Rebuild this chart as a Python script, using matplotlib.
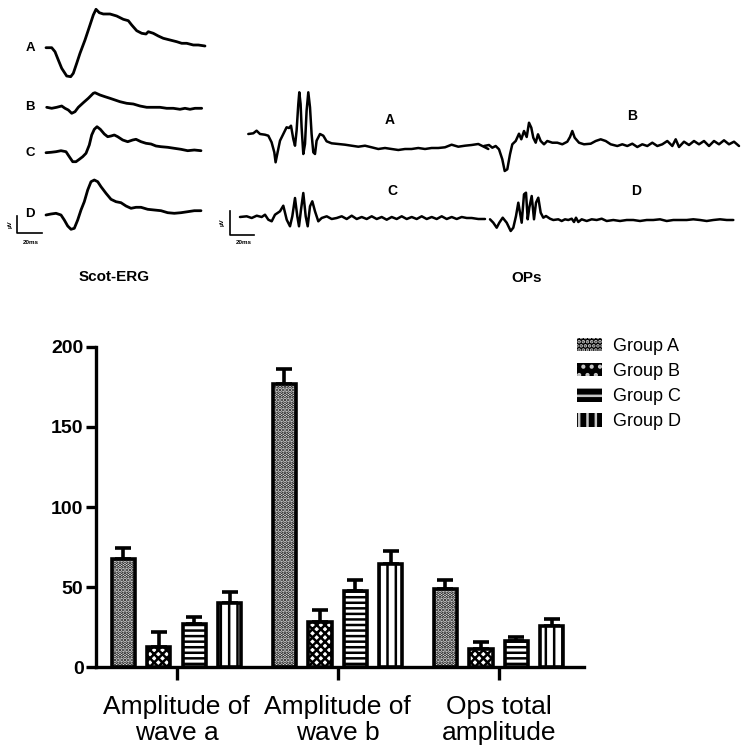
import matplotlib
matplotlib.use("Agg")
import matplotlib.pyplot as plt
from matplotlib.patches import Patch
import numpy as np

plt.rcParams["font.family"] = ["Liberation Sans", "DejaVu Sans"]
plt.rcParams["hatch.linewidth"] = 1.8

# ---- bar chart data ----
categories = ["Amplitude of\nwave a", "Amplitude of\nwave b", "Ops total\namplitude"]
groups = ["Group A", "Group B", "Group C", "Group D"]
group_a_mean = [67.6, 176.6, 48.6]
group_b_mean = [12.8, 28.1, 11.0]
group_c_mean = [26.9, 47.3, 16.0]
group_d_mean = [40.3, 64.5, 25.4]
group_a_err = [6.8, 9.4, 5.5]
group_b_err = [9.3, 7.4, 4.6]
group_c_err = [4.1, 6.8, 3.0]
group_d_err = [6.6, 8.2, 4.6]
hatches = [".....", "xxxx", "---", "||"]
legend_hatches = ["....", "..", "--", "||"]

# ---- traces (time, amplitude) ----
erg_a_t = [0, 5.7, 9, 12.3, 15.7, 20.7, 24.7, 27.3, 30.7, 34, 39, 44, 47.3, 50, 53.3, 57.3, 64, 70.7, 77.3,
           82.3, 85.7, 90.7, 95.7, 100, 102.3, 107.3, 112.3, 117.3, 124, 130.7, 135.7, 140.7, 147.3, 152.3, 159]
erg_a_v = [0, 0, -4, -12.3, -20.6, -28.3, -29, -25.6, -15.6, -5.6, 7.7, 22.7, 32.7, 38.4, 35, 33.7, 33.7, 31.7,
           28.4, 27, 22.7, 17, 14.4, 13.7, 16, 14.4, 11.7, 9.4, 7.7, 6, 4.4, 4.4, 2.7, 2.7, 1.7]
erg_b_t = [0.7, 5.7, 10.7, 15.7, 19, 22.3, 25.7, 29, 32.3, 37.3, 42.3, 47.3, 49, 54, 59, 64, 69, 74, 80.7,
           87.3, 94, 100.7, 107.3, 114, 120.7, 127.3, 134, 139, 144, 149, 155.7]
erg_b_v = [0.2, -0.8, 0.2, 1.5, -0.8, -2.5, -5.8, -4.2, 0.2, 4.8, 9.2, 14.2, 14.8, 12.5, 10.8, 9.2, 7.5, 5.8,
           4.2, 3.5, 1.5, 0.2, 0.2, 0.2, -0.8, -0.8, -1.8, -0.8, -1.8, -0.8, -0.8]
erg_c_t = [0, 5, 10, 15, 20, 23.3, 26.7, 30, 33.3, 36.7, 40, 43.3, 45.7, 48.3, 51, 54.3, 58.3, 61.7, 65, 68.3,
           71.7, 76.7, 81.7, 86.7, 90, 95, 100, 105, 110, 115, 121.7, 128.3, 135, 141.7, 148.3, 155]
erg_c_v = [-0.2, 0.2, 0.8, 1.8, 0.8, -4.2, -9.2, -9.2, -6.8, -4.2, -0.8, 7.5, 17.5, 23.2, 25.8, 23.2, 18.5,
           15.8, 16.5, 17.5, 15.8, 12.5, 10.8, 12.5, 13.2, 10.8, 9.2, 8.5, 6.5, 5.8, 5.2, 4.2, 3.2, 1.8, 2.5, 1.8]
erg_d_t = [0, 5, 10, 15, 18.3, 21.7, 25, 28.3, 31.7, 35, 38.3, 41.7, 45, 48.3, 51.7, 55, 60, 65, 70, 75, 80,
           85, 90, 95, 101.7, 108.3, 115, 121.7, 128.3, 135, 141.7, 148.3, 155]
erg_d_v = [-1, 0, 0.7, -1, -6, -12, -15.3, -14.3, -6, 4, 12.3, 24, 32.3, 34, 32.3, 27.3, 20.7, 14.7, 12.3,
           11.3, 8, 5.7, 6.7, 6.7, 4.7, 4, 3.3, 1.3, 0.7, 1.3, 2.3, 3.3, 3.3]

ops_a_t = [0, 5, 8.3, 11.7, 16.7, 20, 23.3, 26, 27.3, 29.3, 31.7, 35, 38.3, 40.7, 42.7, 45, 46.7, 48.3, 50, 51,
           52.3, 53.3, 55, 56.7, 58.3, 60, 61.7, 63.3, 65, 66.7, 68.3, 71.7, 75, 78.3, 83.3, 90, 96.7, 103.3,
           110, 116.7, 123.3, 130, 136.7, 143.3, 150, 156.7, 163.3, 170, 176.7, 183.3, 190, 196.7, 203.3,
           210, 216.7, 223.3, 230, 236.7, 240]
ops_a_v = [0, 0.7, 3.3, 0, -0.7, -1.7, -8.3, -18.3, -28.3, -18.3, -6.7, 0, 6.7, 6, 8.3, -5, -11.7, 3.3, 30,
           41.7, 30, 6.7, -20, -10, 23.3, 41.7, 26.7, 0, -18.3, -20, -6.7, 0, -1.7, -7.3, -9.3, -10, -10.7,
           -11.7, -12.7, -11.7, -13.3, -15, -14, -15, -16, -15, -15, -14, -15, -14, -14, -13.3, -10.7,
           -12.7, -11.7, -11, -10, -13.3, -15]
ops_b_t = [0, 5, 8.3, 11.7, 15, 18.3, 20.7, 23.3, 26, 28.3, 31.7, 35, 37.3, 40, 42.7, 45, 47.3, 49.3, 51.7, 54,
           56.7, 60, 63.3, 68.3, 73.3, 78.3, 83.3, 86, 88.3, 90.7, 95, 100, 106.7, 111.7, 116.7, 121.7, 126.7,
           133.3, 138.3, 143.3, 148.3, 153.3, 158.3, 163.3, 168.3, 173.3, 178.3, 183.3, 188.3, 191.7, 195,
           200, 205, 210, 215, 220, 225, 230, 235, 240, 245, 250, 255]
ops_b_v = [0, 1, -1.7, 0, -3.3, -13.3, -25, -23.3, -8.3, 1.7, 5, 12.3, 6.7, 15, 9, 23.3, 18.3, 8.3, 3.3, 11.7,
           5, 1.7, 5, 3.3, 3.3, 1.7, 4.3, 9, 15, 8.3, 3.3, 1.7, 2.3, 5, 6.7, 5, 1.7, 0, 1.7, 0, 2.3, -1, 1.7,
           0, 3.3, 0, 1.7, 5, 0, 6.7, -1, 4.3, 1, 5, 1.7, 5, 0, 5, 1.7, 5.7, 1.7, 4.3, 0]
ops_c_t = [0, 6.7, 11.7, 16.7, 21.7, 25, 28.3, 31.7, 35, 40, 43.3, 46.7, 50, 52.3, 55, 57.3, 59, 61, 63.3,
           65.7, 67.7, 70, 72.3, 75, 78.3, 81.7, 86.7, 91.7, 96.7, 101.7, 106.7, 111.7, 116.7, 121.7, 126.7,
           131.7, 136.7, 141.7, 146.7, 151.7, 156.7, 161.7, 166.7, 171.7, 176.7, 181.7, 186.7, 191.7, 196.7,
           201.7, 206.7, 211.7, 216.7, 221.7, 226.7, 231.7, 238.3, 245]
ops_c_v = [0, 0.7, -1, 1.3, 0, 2.3, -2.7, -4.3, 2.3, 5.7, 11.3, -2.7, -9.3, 0.7, 19, 0.7, -9.3, 7.3, 24, 0.7,
           -9.3, 10.7, 15.7, 5.7, -4.3, -1, 0.7, -2, -1, 0.7, -2, 1.3, -2, 0, -2, 0.7, -2, 0, -2.7, 0, -2, 0.7,
           -2, 0, -2, 0.7, -2, 0, -2, 0.7, -2, 0, -2, 0, -1, -1, -2, -2]
ops_d_t = [0, 3.3, 6.7, 9.3, 12.7, 16.7, 20.7, 23.3, 26, 28.3, 30, 31.7, 34, 36, 37.7, 39.3, 41.7, 44, 46,
           48.3, 50.7, 53.3, 56, 60, 63.3, 68.3, 71.7, 75, 78.3, 81.7, 84, 86, 88.3, 91.7, 96.7, 101.7,
           106.7, 111.7, 116.7, 123.3, 130, 136.7, 143.3, 150, 156.7, 163.3, 170, 176.7, 183.3, 190, 196.7,
           203.3, 210, 216.7, 223.3, 230, 236.7, 243.3]
ops_d_v = [0.7, -2.7, -7.7, -2.7, 2.3, -2.7, -11, -7.7, 4, 17.3, 7.3, -2.7, 25.7, 27.3, 0.7, 12.3, 24, 0.7,
           17.3, 22.3, 7.3, 2.3, 4, 1.3, 0, 0.7, -1, 0.7, 0, 1.3, -2, 2.3, -2, 0.7, -1, 0.7, 0, 1.3, -1, 0,
           -1, 0, 0, -1, 0, 0, 0.7, -1, 0, 0, 0, 0.7, 0, -1, 0, 0.7, 0, 0]


def draw_trace(ax, t, v, x0, y0, lw=1.8):
    ax.plot(x0 + np.asarray(t), y0 - np.asarray(v), color="black", lw=lw,
            solid_joinstyle="round", solid_capstyle="round")


def scale_bar(ax, x0, y_top, y_bot, x_end, label_x, label_y, rot_x, rot_y):
    ax.plot([x0, x0, x_end], [y_top, y_bot, y_bot], color="black", lw=1.2)
    ax.text(label_x, label_y, "20ms", fontsize=4.5, fontweight="bold", ha="center", va="center")
    ax.text(rot_x, rot_y, "µV", fontsize=4.5, fontweight="bold", rotation=90, ha="center", va="center")


def main():
    fig = plt.figure(figsize=(7.42, 7.54), dpi=100)

    # top panel in pixel-like coordinates
    top = fig.add_axes([0, 0, 1, 1])
    top.set_xlim(0, 742)
    top.set_ylim(754, 0)
    top.axis("off")
    top.patch.set_alpha(0)

    erg = [(erg_a_t, erg_a_v, 47.7, "A"), (erg_b_t, erg_b_v, 107.5, "B"),
           (erg_c_t, erg_c_v, 152.5, "C"), (erg_d_t, erg_d_v, 214, "D")]
    for t, v, base, lab in erg:
        draw_trace(top, t, v, 46, base, lw=2.0)
        top.text(30, base, lab, fontsize=9.5, fontweight="bold", ha="center", va="center")
    scale_bar(top, 17, 216, 233, 42, 31, 242, 10, 224)
    top.text(114, 277, "Scot-ERG", fontsize=11, fontweight="bold", ha="center", va="center")

    draw_trace(top, ops_a_t, ops_a_v, 248.3, 134)
    draw_trace(top, ops_b_t, ops_b_v, 484, 146)
    draw_trace(top, ops_c_t, ops_c_v, 240, 217)
    draw_trace(top, ops_d_t, ops_d_v, 490, 220)
    for lab, lx, ly in [("A", 390, 120), ("B", 632, 116), ("C", 392, 191), ("D", 636, 191)]:
        top.text(lx, ly, lab, fontsize=10, fontweight="bold", ha="center", va="center")
    scale_bar(top, 230, 211, 235, 254, 244, 243, 222, 222)
    top.text(527, 278, "OPs", fontsize=11, fontweight="bold", ha="center", va="center")

    # bar chart
    ax = fig.add_axes([96 / 742, 87 / 754, 488 / 742, 320 / 754])
    x = np.arange(1, 4)
    pitch = 0.22
    means = [group_a_mean, group_b_mean, group_c_mean, group_d_mean]
    errs = [group_a_err, group_b_err, group_c_err, group_d_err]
    for i in range(4):
        pos = x + (i - 1.5) * pitch
        ax.bar(pos, means[i], width=0.145, facecolor="white", edgecolor="black",
               linewidth=2.6, hatch=hatches[i], zorder=3)
        ax.errorbar(pos, means[i], yerr=[np.zeros(3), errs[i]], fmt="none", ecolor="black",
                    elinewidth=2.6, capsize=6, capthick=2.6, zorder=2)

    ax.set_xlim(0.5, 3.53)
    ax.set_ylim(0, 200)
    ax.set_yticks([0, 50, 100, 150, 200])
    ax.set_xticks(x)
    ax.set_xticklabels(categories, fontsize=19)
    for lab in ax.get_xticklabels():
        lab.set_linespacing(1.1)
    for lab in ax.get_yticklabels():
        lab.set_fontweight("bold")
        lab.set_fontsize(14)
    ax.spines["top"].set_visible(False)
    ax.spines["right"].set_visible(False)
    ax.spines["left"].set_linewidth(2.4)
    ax.spines["bottom"].set_linewidth(2.4)
    ax.tick_params(axis="y", length=7, width=2.4, pad=2)
    ax.tick_params(axis="x", length=9, width=2.4, pad=11)

    handles = [Patch(facecolor="black", edgecolor="#c8c8c8", hatch=h, linewidth=0) for h in legend_hatches]
    fig.legend(handles, groups, loc="upper left", bbox_to_anchor=(577 / 742, 1 - 338 / 754),
               frameon=False, fontsize=13, handlelength=1.4, handleheight=0.75,
               handletextpad=0.6, labelspacing=0.45, borderpad=0, borderaxespad=0)

    fig.savefig("out.png", dpi=100)


if __name__ == "__main__":
    main()
